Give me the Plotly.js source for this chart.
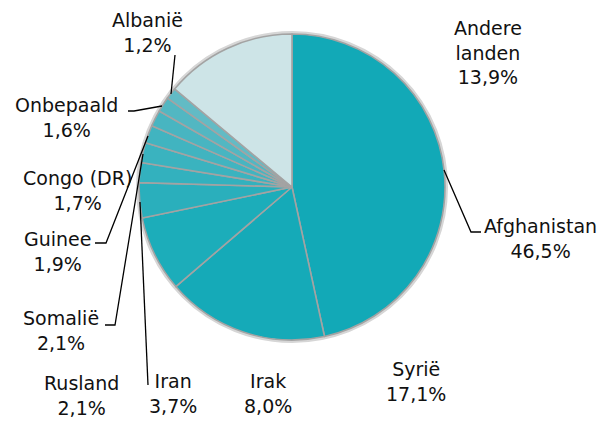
<!DOCTYPE html>
<html>
<head>
<meta charset="utf-8">
<script src="https://cdn.plot.ly/plotly-3.0.1.min.js"></script>
<style>html,body{margin:0;padding:0;background:#fff;}#chart{width:608px;height:421px;}</style>
</head>
<body>
<div id="chart"></div>
<script>
// Data
const categories = ["Afghanistan","Syrië","Irak","Iran","Rusland","Somalië","Guinee","Congo (DR)","Onbepaald","Albanië","Andere landen"];
const labelText = ["Afghanistan","Syrië","Irak","Iran","Rusland","Somalië","Guinee","Congo (DR)","Onbepaald","Albanië","Andere<br>landen"];
const shares = [46.5, 17.1, 8.0, 3.7, 2.1, 2.1, 1.9, 1.7, 1.6, 1.2, 13.9];
const shareLabels = ["46,5%","17,1%","8,0%","3,7%","2,1%","2,1%","1,9%","1,7%","1,6%","1,2%","13,9%"];

// Styling / layout (pixel positions of labels in the 608x421 frame)
const W = 608, H = 421;
const colors = ["#12a9b7","#15aab8","#1cadba","#2aafbc","#33b1be","#3ab3bf","#41b4c0","#48b5c1","#52b7c2","#62bbc5","#cde4e7"];
const labelPos = [ // [centre x, centre y]
  [540, 238], [416, 381], [268, 393], [173, 393], [81, 395],
  [61, 330], [57, 251], [77, 191], [66, 117], [147, 32.5], [488, 53]
];
const leaders = [
  [[444,170],[471,232],[481,232]],
  null, null,
  [[140,202],[148,385]],
  null,
  [[143,154],[115,325],[105,325]],
  [[148,136],[106,243],[95,243]],
  null,
  [[162,106],[134,111],[128,111]],
  [[171,94],[175,55]],
  null
];

const px = x => x / W;
const py = y => 1 - y / H;

const cx = 292, cy = 187, r = 153;

const trace = {
  type: 'pie',
  labels: categories,
  values: shares,
  sort: false,
  direction: 'clockwise',
  rotation: 0,
  textinfo: 'none',
  hoverinfo: 'label+percent',
  marker: { colors: colors, line: { color: '#a3a3a3', width: 1.6 } },
  domain: { x: [px(cx - r), px(cx + r)], y: [py(cy + r), py(cy - r)] },
  showlegend: false
};

const annotations = categories.map((c, i) => ({
  xref: 'paper', yref: 'paper',
  x: px(labelPos[i][0]), y: py(labelPos[i][1]),
  xanchor: 'center', yanchor: 'middle', align: 'center',
  showarrow: false,
  text: labelText[i] + '<br>' + shareLabels[i],
  font: { family: 'DejaVu Sans, Verdana, sans-serif', size: 19, color: '#111' }
}));

const shapes = leaders.filter(Boolean).map(pts => ({
  type: 'path', xref: 'paper', yref: 'paper',
  path: pts.map((p, k) => (k ? 'L' : 'M') + px(p[0]) + ',' + py(p[1])).join(' '),
  line: { color: '#000', width: 1.3 }
}));
// soft halo ring around the pie
shapes.push({
  type: 'circle', xref: 'paper', yref: 'paper', layer: 'below',
  x0: px(cx - r - 1.5), x1: px(cx + r + 1.5), y0: py(cy + r + 1.5), y1: py(cy - r - 1.5),
  line: { color: '#d6d6d6', width: 3 }, fillcolor: 'rgba(0,0,0,0)'
});

const layout = {
  width: W, height: H,
  margin: { l: 0, r: 0, t: 0, b: 0 },
  paper_bgcolor: '#fff',
  annotations: annotations,
  shapes: shapes
};

Plotly.newPlot('chart', [trace], layout, { displayModeBar: false, staticPlot: true });
</script>
</body>
</html>
